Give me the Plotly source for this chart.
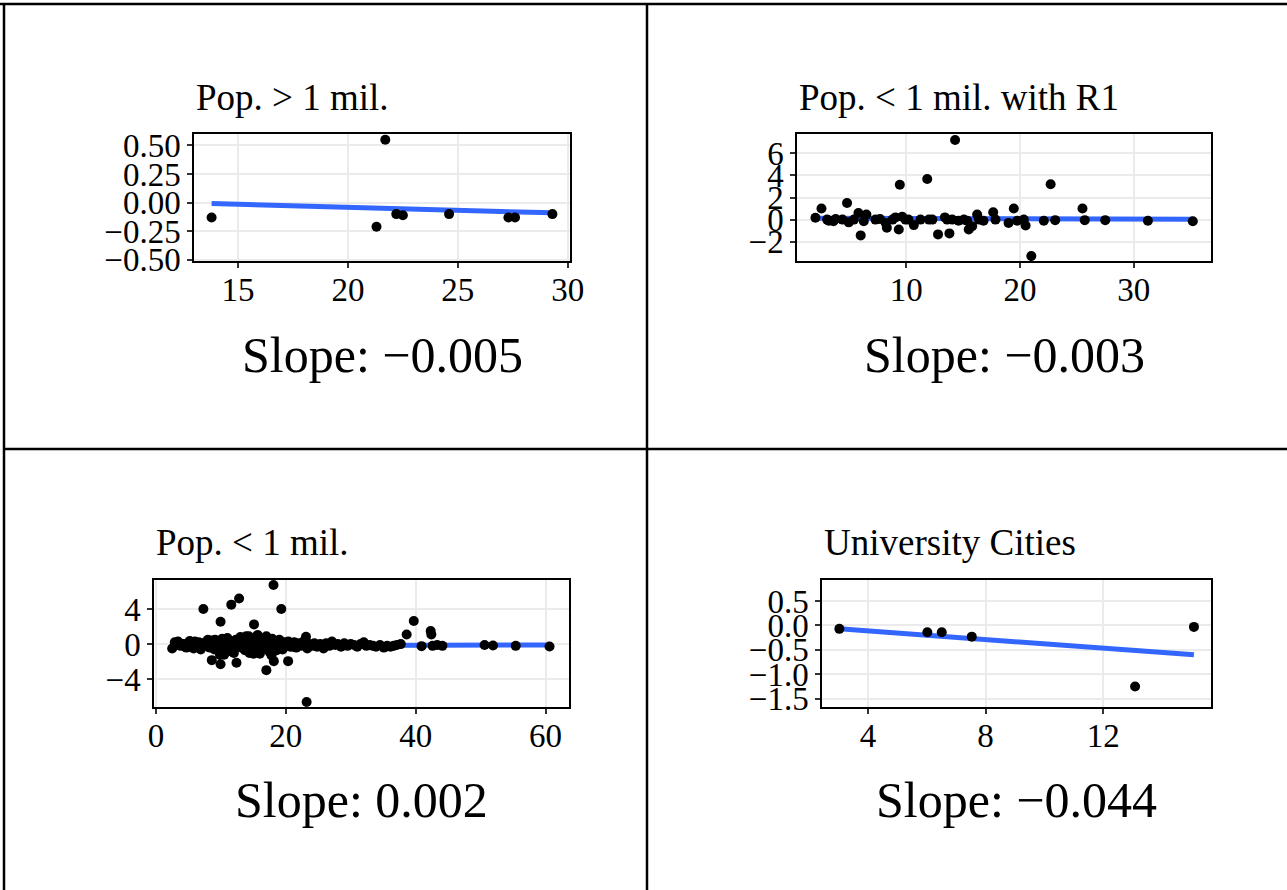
import numpy as np
import plotly.graph_objects as go

W, H = 1287, 890

# ---------------- data ----------------
titles = ["Pop. > 1 mil.", "Pop. < 1 mil. with R1", "Pop. < 1 mil.", "University Cities"]
slope_labels = ["Slope: \u22120.005", "Slope: \u22120.003", "Slope: 0.002", "Slope: \u22120.044"]

# fitted line (intercept, slope) per panel
fit_intercepts = [0.066, 0.13, -0.21, 0.063]
fit_slopes = [-0.0053, -0.003, 0.002, -0.044]

# Panel 1: Pop. > 1 mil.
x1 = [13.8, 21.3, 21.7, 22.2, 22.5, 24.6, 27.3, 27.6, 29.3]
y1 = [-0.13, -0.21, 0.55, -0.10, -0.11, -0.10, -0.13, -0.13, -0.10]

# Panel 2: Pop. < 1 mil. with R1
x2 = [2.02, 2.55, 3.05, 3.2, 3.6, 3.8, 4.4, 4.8, 4.95, 5.4, 5.8, 6.0, 6.27, 6.5,
      7.3, 7.7, 8.2, 8.3, 8.8, 9.06, 9.35, 9.44, 9.65, 9.94, 10.2, 10.67, 11.26,
      11.85, 12.0, 12.3, 12.8, 13.4, 13.6, 13.8, 14.05, 14.3, 14.6, 15.07, 15.36,
      15.5, 15.8, 16.24, 16.4, 16.8, 17.65, 17.85, 19.0, 19.46, 19.76, 20.34, 20.5,
      21.0, 22.1, 22.7, 23.1, 25.5, 25.7, 27.5, 31.25, 35.2]
y2 = [0.16, 1.0, 0.0, -0.1, -0.15, 0.05, 0.0, 1.5, -0.25, 0.0, 0.6, -1.43, -0.15, 0.45,
      0.0, 0.05, -0.3, -0.74, 0.0, 0.2, -0.9, 3.15, 0.25, 0.0, 0.0, -0.5, 0.0,
      3.67, 0.0, 0.0, -1.34, 0.2, 0.0, -1.25, 0.0, 7.2, -0.1, 0.0, -0.1,
      -0.9, -0.6, 0.45, 0.0, -0.1, 0.67, 0.0, -0.3, 1.0, -0.1, 0.0, -0.53,
      -3.3, -0.1, 3.2, -0.05, 1.0, -0.05, -0.05, -0.1, -0.15]

# Panel 3: Pop. < 1 mil.
x3 = [2.5, 2.9, 3.1, 3.4, 3.8, 4.2, 4.5, 4.9, 5.2, 5.5, 5.8, 6.1, 6.3, 6.6, 6.9, 7.2,
      7.5, 7.8, 8.1, 8.3, 8.6, 8.9, 9.1, 9.4, 9.7, 9.9, 10.2, 10.4, 10.7, 10.9, 11.2,
      11.5, 11.7, 12.0, 12.2, 12.5, 12.7, 13.0, 13.2, 13.5, 13.7, 13.9, 14.2, 14.4,
      14.6, 14.9, 15.1, 15.3, 15.6, 15.8, 16.0, 16.3, 16.5, 16.7, 17.0, 17.2, 17.4,
      17.7, 17.9, 18.2, 18.4, 18.7, 18.9, 19.2, 19.5, 19.8, 20.1, 20.4, 20.7, 21.0,
      21.3, 21.6, 21.9, 22.3, 22.7, 23.1, 23.3, 23.6, 24.0, 24.4, 24.8, 25.3, 25.8,
      26.2, 26.7, 27.1, 27.6, 28.0, 28.5, 29.0, 29.5, 30.0, 30.5, 31.0, 31.5, 32.0,
      32.4, 32.9, 33.4, 33.9, 34.5, 35.1, 35.6, 36.1, 36.6, 37.1, 37.7,
      3.6, 4.7, 6.0, 7.0, 8.0, 9.0, 10.0, 10.5, 11.0, 11.8, 12.3, 13.3, 14.0, 14.8,
      15.0, 15.5, 16.1, 16.9, 17.5, 18.0, 18.6, 19.0, 19.6, 20.2, 21.1, 22.0, 9.85,
      12.0, 16.0, 17.8, 15.7, 14.3,
      7.3, 11.6, 12.8, 18.1, 19.3, 9.95, 15.1, 8.6, 9.95, 12.4, 17.0, 20.35, 23.2,
      18.15, 38.6, 39.7, 42.3, 42.4, 40.9, 42.6, 43.3, 44.1, 50.6, 51.9, 55.4, 60.6]
y3 = [-0.5, 0.2, -0.1, 0.3, -0.2, 0.0, -0.3, 0.1, 0.35, -0.1, -0.5, 0.05, -0.25, 0.2,
      -0.6, 0.1, -0.2, 0.3, 0.0, -0.4, 0.4, -0.1, 0.5, -0.3, 0.1, -0.8, 0.6, -0.2, 0.2,
      -0.5, 0.0, 0.3, -0.6, 0.1, -0.3, 0.4, -0.1, 0.8, -0.4, 0.2, -0.7, 0.9, 0.0, -1.0,
      0.5, -0.2, 0.3, -0.9, 1.0, -0.3, 0.1, -0.6, 0.4, -0.1, 0.9, -0.5, 0.2, -0.2, 0.6,
      -0.4, 0.0, 0.3, -0.3, 0.1, -0.6, 0.2, -0.1, 0.3, -0.3, 0.0, 0.2, -0.4, 0.1, -0.2,
      0.3, 0.84, -0.5, 0.0, -0.2, 0.1, -0.3, 0.0, -0.5, 0.1, -0.2, 0.3, -0.1, 0.0, -0.3,
      0.1, -0.2, 0.0, -0.1, -0.3, 0.0, 0.2, -0.2, -0.1, -0.2, -0.3, -0.1, -0.4, -0.2,
      -0.3, -0.2, -0.1, 0.0,
      0.1, -0.4, 0.3, -0.1, 0.5, -0.6, 0.3, -1.2, 0.7, -0.9, 0.5, -0.2, 0.4, -0.6,
      -1.1, 0.5, -0.3, 0.3, -0.9, 0.2, -0.7, 0.5, -0.2, 0.1, -0.3, 0.0, -1.25,
      -1.0, -1.1, -1.3, 1.0, 0.9,
      4.0, 4.5, 5.2, 6.74, 4.0, 2.55, 2.25, -1.83, -2.3, -2.13, -2.97, -1.94, -6.6,
      -1.94, 1.1, 2.63, 1.5, 1.1, -0.23, -0.2, -0.1, -0.2, -0.1, -0.15, -0.2, -0.27]

# Panel 4: University Cities
x4 = [3.03, 6.02, 6.51, 7.53, 13.08, 15.08]
y4 = [-0.07, -0.14, -0.14, -0.23, -1.25, -0.03]

xs = [x1, x2, x3, x4]
ys = [y1, y2, y3, y4]

# axis ticks
xtickvals = [[15, 20, 25, 30], [10, 20, 30], [0, 20, 40, 60], [4, 8, 12]]
xticktext = [["15", "20", "25", "30"], ["10", "20", "30"], ["0", "20", "40", "60"], ["4", "8", "12"]]
ytickvals = [[0.5, 0.25, 0.0, -0.25, -0.5], [6, 4, 2, 0, -2], [4, 0, -4], [0.5, 0.0, -0.5, -1.0, -1.5]]
yticktext = [["0.50", "0.25", "0.00", "\u22120.25", "\u22120.50"],
             ["6", "4", "2", "0", "\u22122"],
             ["4", "0", "\u22124"],
             ["0.5", "0.0", "\u22120.5", "\u22121.0", "\u22121.5"]]
xranges = [[13.0, 30.1], [0.4, 36.8], [-0.3, 63.6], [2.44, 15.66]]
yranges = [[-0.51, 0.60], [-3.75, 7.75], [-7.17, 7.31], [-1.67, 0.93]]

# ---------------- layout geometry (pixels) ----------------
panel_px = [  # left, right, top, bottom
    (194, 570, 134, 261),
    (797, 1211, 134, 261),
    (154, 569, 580, 707),
    (822, 1211, 580, 707),
]
title_y_px = [97, 97, 542, 542]
slope_y_px = [355, 355, 800, 800]

FONT = "Liberation Serif, Times New Roman, serif"

fig = go.Figure()
layout = dict(
    template="none",
    width=W, height=H,
    margin=dict(l=0, r=0, t=0, b=0, pad=0, autoexpand=False),
    paper_bgcolor="white", plot_bgcolor="white",
    showlegend=False,
    font=dict(family=FONT, color="black"),
)
annotations = []
for i in range(4):
    sfx = "" if i == 0 else str(i + 1)
    l, r, t, b = panel_px[i]
    xd = [l / W, r / W]
    yd = [1 - b / H, 1 - t / H]
    axis_common = dict(
        showgrid=True, gridcolor="#EBEBEB", gridwidth=2,
        ticks="outside", ticklen=5, tickwidth=1.5, tickcolor="#333333",
        showline=True, linecolor="black", linewidth=1.5, mirror=True,
        zeroline=False, automargin=False,
        tickfont=dict(family=FONT, size=33, color="black"),
    )
    layout["xaxis" + sfx] = dict(axis_common, domain=xd, range=xranges[i],
                                 tickvals=xtickvals[i], ticktext=xticktext[i],
                                 anchor="y" + sfx, tickmode="array",
                                 ticklabelstandoff=-6)
    layout["yaxis" + sfx] = dict(axis_common, domain=yd, range=yranges[i],
                                 tickvals=ytickvals[i], ticktext=yticktext[i],
                                 anchor="x" + sfx, tickmode="array")

    xa = np.array(xs[i], dtype=float)
    lx = np.array([xa.min(), xa.max()])
    ly = fit_intercepts[i] + fit_slopes[i] * lx
    fig.add_trace(go.Scatter(x=lx, y=ly, mode="lines",
                             line=dict(color="#3366FF", width=5),
                             xaxis="x" + sfx, yaxis="y" + sfx, hoverinfo="skip"))
    fig.add_trace(go.Scatter(x=xs[i], y=ys[i], mode="markers",
                             marker=dict(color="black", size=10, line=dict(width=0)),
                             xaxis="x" + sfx, yaxis="y" + sfx))

    annotations.append(dict(text=titles[i], x=l / W, y=1 - title_y_px[i] / H,
                            xref="paper", yref="paper", xanchor="left", yanchor="middle",
                            showarrow=False, font=dict(family=FONT, size=37, color="black")))
    annotations.append(dict(text=slope_labels[i], x=(l + r) / 2 / W, y=1 - slope_y_px[i] / H,
                            xref="paper", yref="paper", xanchor="center", yanchor="middle",
                            showarrow=False, font=dict(family=FONT, size=50, color="black")))

layout["annotations"] = annotations

# quadrant frame lines
shapes = []
bw = 2.5
shapes.append(dict(type="line", xref="paper", yref="paper", x0=0, x1=1, y0=1 - 4 / H, y1=1 - 4 / H,
                   line=dict(color="black", width=bw)))
shapes.append(dict(type="line", xref="paper", yref="paper", x0=4 / W, x1=4 / W, y0=0, y1=1 - 4 / H,
                   line=dict(color="black", width=bw)))
shapes.append(dict(type="line", xref="paper", yref="paper", x0=647 / W, x1=647 / W, y0=0, y1=1 - 4 / H,
                   line=dict(color="black", width=bw)))
shapes.append(dict(type="line", xref="paper", yref="paper", x0=4 / W, x1=1, y0=1 - 449 / H, y1=1 - 449 / H,
                   line=dict(color="black", width=bw)))
layout["shapes"] = shapes

fig.update_layout(**layout)
fig.write_html("out.html", config={"displayModeBar": False},
               post_script="document.body.style.margin='0px';document.body.style.overflow='hidden';")
